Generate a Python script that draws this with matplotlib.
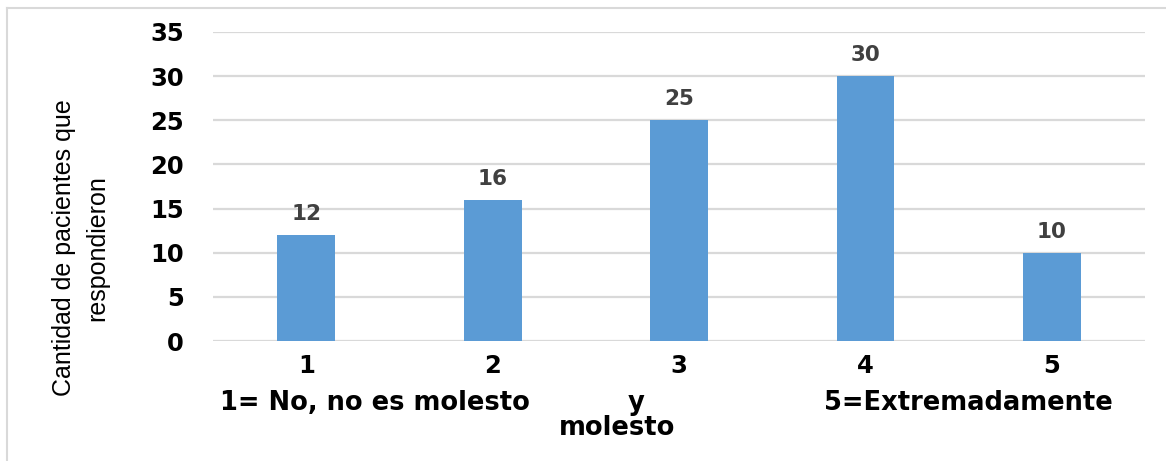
import matplotlib.pyplot as plt
from matplotlib.lines import Line2D
from matplotlib.transforms import blended_transform_factory

categorias = ["1", "2", "3", "4", "5"]
respuestas = [12, 16, 25, 30, 10]
yticks = [0, 5, 10, 15, 20, 25, 30, 35]

plt.rcParams['font.family'] = ['DejaVu Sans']

fig = plt.figure(figsize=(11.66, 4.61), dpi=100)
ax = fig.add_axes([0.1827, 0.2603, 0.7993, 0.6703])

x = list(range(len(categorias)))
ax.bar(x, respuestas, width=0.31, color="#5B9BD5", zorder=3)
for xi, v in zip(x, respuestas):
    ax.annotate(str(v), (xi, v), xytext=(0, 8), textcoords="offset points",
                ha="center", va="bottom", fontsize=15.5, fontweight="bold",
                color="#404040")

ax.set_xlim(-0.5, 4.5)
ax.set_ylim(0, 35)
ax.set_yticks(yticks)
ax.set_yticklabels([str(t) for t in yticks], fontsize=17.5, fontweight="bold")
ax.tick_params(axis="y", length=0, pad=21)
ax.set_xticks([])
ax.grid(axis="y", color="#D9D9D9", linewidth=1.6, zorder=0)
for s in ax.spines.values():
    s.set_visible(False)

# etiquetas del eje x (dos niveles)
tr = blended_transform_factory(ax.transData, ax.transAxes)
for xi, c in zip(x, categorias):
    ax.text(xi, -0.081, c, transform=tr, ha="center", va="center",
            fontsize=17.5, fontweight="bold")
ax.text(0.37, -0.20, "1= No, no es molesto", transform=tr, ha="center",
        va="center", fontsize=18.5, fontweight="bold")
ax.text(1.77, -0.20, "y", transform=tr, ha="center", va="center",
        fontsize=18.5, fontweight="bold")
ax.text(1.67, -0.28, "molesto", transform=tr, ha="center", va="center",
        fontsize=18.5, fontweight="bold")
ax.text(3.55, -0.20, "5=Extremadamente", transform=tr, ha="center",
        va="center", fontsize=18.5, fontweight="bold")

fig.text(0.069, 0.462, "Cantidad de pacientes que\nrespondieron", rotation=90,
         ha="center", va="center", fontsize=18, linespacing=1.5,
         family="Liberation Sans")

# marco del grafico
fig.add_artist(Line2D([0.006, 1.0], [0.983, 0.983], color="#D9D9D9", lw=1.5))
fig.add_artist(Line2D([0.006, 0.006], [0.0, 0.983], color="#D9D9D9", lw=1.5))

fig.savefig("out.png", dpi=100)
